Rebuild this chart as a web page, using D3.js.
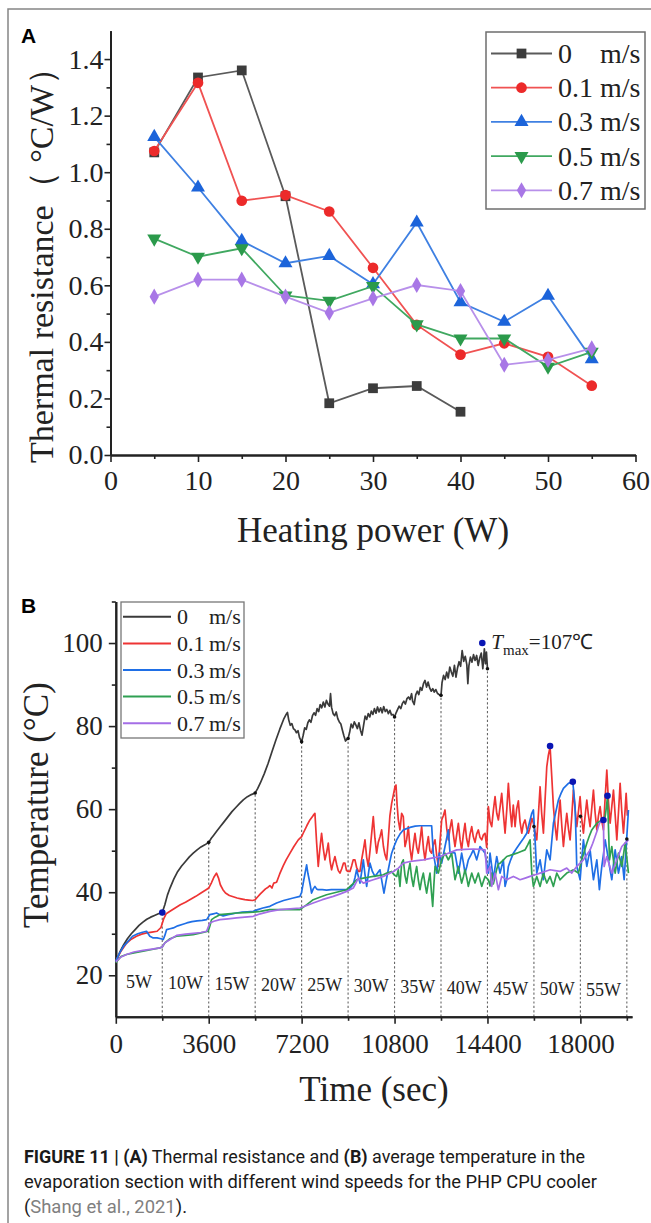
<!DOCTYPE html>
<html>
<head>
<meta charset="utf-8">
<title>Figure 11</title>
<style>
  html, body { margin: 0; padding: 0; background: #fff; }
  svg { display: block; }
</style>
</head>
<body>
<script src="https://cdn.jsdelivr.net/npm/d3@7"></script>
<script>

// ---------- (A) thermal resistance vs heating power ----------
var power = [5, 10, 15, 20, 25, 30, 35, 40, 45, 50, 55]
var speedNames = ['0', '0.1', '0.3', '0.5', '0.7']

var rth0  = [1.07, 1.335, 1.36, 0.915, 0.183, 0.236, 0.244, 0.153]
var rth01 = [1.075, 1.316, 0.899, 0.919, 0.861, 0.662, 0.46, 0.355, 0.395, 0.347, 0.245]
var rth03 = [1.125, 0.946, 0.757, 0.678, 0.704, 0.604, 0.822, 0.54, 0.471, 0.563, 0.339]
var rth05 = [0.765, 0.701, 0.731, 0.564, 0.545, 0.597, 0.462, 0.412, 0.412, 0.312, 0.365]
var rth07 = [0.56, 0.62, 0.62, 0.56, 0.503, 0.554, 0.601, 0.58, 0.319, 0.336, 0.377]

var xTicksA = [0, 10, 20, 30, 40, 50, 60]
var yTicksA = [0, 0.2, 0.4, 0.6, 0.8, 1.0, 1.2, 1.4]

// ---------- (B) evaporator temperature vs time ----------
var xTicksB = [0, 3600, 7200, 10800, 14400, 18000]
var yTicksB = [20, 40, 60, 80, 100]
var stageNames = ['5W', '10W', '15W', '20W', '25W', '30W', '35W', '40W', '45W', '50W', '55W']
var stageEnds = [1800, 3600, 5400, 7200, 9000, 10800, 12600, 14400, 16200, 18000, 19800]
var stageTops = [35.1, 52, 63.9, 76.2, 77, 82.2, 87.4, 93.8, 55.8, 58.3, 52.8]
var peakDots = [[1800, 35.1], [14200, 100], [16826, 75.2], [17706, 66.6], [19050, 63.2], [18893, 57.4]]

// [time s, temperature °C]
var temp0 = [[0,23],[150,25.5],[300,27.3],[450,28.8],[600,30],[750,31],[900,32],[1050,32.8],[1200,33.5],[1350,34],[1500,34.4],[1650,34.8],[1800,35.1],
  [1900,37],[2000,39.3],[2100,41],[2250,43.2],[2400,45],[2550,46.3],[2700,47.4],[2850,48.5],[3000,49.4],[3150,50.2],[3300,50.9],[3450,51.4],[3600,52],
  [3700,53],[3800,53.8],[3900,54.6],[4050,55.8],[4200,57],[4350,58.2],[4500,59.4],[4650,60.4],[4800,61.4],[4950,62.3],[5100,63],[5250,63.5],[5400,63.9],
  [5500,65],[5600,66.3],[5750,68.5],[5900,71],[6050,73.8],[6200,76.6],[6350,79.2],[6500,81.6],[6600,82.8],[6650,83.3],[6700,81.5],[6760,80.2],[6820,80.6],[6880,79.4],[6950,79],[7000,78.4],[7060,78.9],[7120,77.2],[7200,76.2],
  [7260,77.8],[7320,79.6],[7380,79.2],[7440,80.8],[7500,81.5],[7560,80.9],[7620,82.5],[7680,83.2],[7740,82.6],[7800,84.2],[7860,83.5],[7920,85.2],[7980,84.4],[8040,85.8],[8100,84.6],[8160,86.2],[8220,85.3],[8280,84.8],[8320,87.8],[8360,84.5],[8420,83],[8480,82.5],[8540,83.4],[8600,81.8],[8660,81],[8720,80.5],[8780,79],[8840,77.6],[8900,76.4],[8960,76.8],[9000,77],
  [9060,78.5],[9120,80.5],[9180,79.6],[9240,81],[9300,80.3],[9360,79.4],[9420,80.8],[9480,79],[9540,77.8],[9600,80.2],[9660,82.4],[9720,81.6],[9780,83],[9840,82.2],[9900,83.6],[9960,82.8],[10020,84.2],[10080,83.1],[10140,84.6],[10200,83.4],[10260,84.4],[10320,83.2],[10380,84.7],[10440,83.5],[10500,84],[10560,83],[10620,83.8],[10680,82.7],[10740,82.8],[10800,82.2],
  [10860,83.2],[10920,84],[10980,84.8],[11040,84.2],[11100,85.4],[11160,86],[11220,85.3],[11280,86.6],[11340,87],[11400,86.4],[11460,87.8],[11500,86],[11560,85.2],[11620,87.5],[11680,88.4],[11740,87.6],[11800,89.3],[11860,88.6],[11920,90.2],[11980,91],[12040,89.4],[12100,90.6],[12160,89.2],[12220,88.4],[12280,89],[12340,88.2],[12400,88.8],[12460,87.9],[12520,87.6],[12600,87.4],
  [12640,90.5],[12700,92.2],[12760,91.2],[12820,93],[12880,91.6],[12940,94.2],[13000,93],[13060,92],[13120,94.6],[13180,91.8],[13240,94],[13300,95.5],[13360,94.4],[13420,98.2],[13480,95.6],[13540,96.8],[13600,94.8],[13640,90.2],[13680,94.5],[13740,96.6],[13800,95.4],[13860,97.2],[13920,95.8],[13980,97],[14040,94.6],[14100,96.4],[14160,97.6],[14220,93.8],[14280,98.6],[14320,95],[14360,97.8],[14400,93.8]]

var temp01 = [[0,23.4],[200,25.8],[400,27.6],[600,28.7],[800,29.4],[1000,29.9],[1200,30.2],[1400,30.4],[1600,30.6],[1750,31.5],[1850,33.5],[1950,34.8],[2100,35.4],[2300,36.2],[2500,37],[2700,37.6],[2900,38.3],[3100,39],[3300,39.8],[3500,40.6],[3600,41],[3700,42.2],[3800,43.6],[3900,44.6],[3980,43.4],[4050,41.8],[4150,40.6],[4250,39.8],[4400,39.2],[4550,38.9],[4700,38.6],[4850,38.4],[5000,38.2],[5150,38.1],[5300,38],[5400,38.2],[5500,38.9],[5600,39.6],[5700,40.2],[5800,40.8],[5900,41.2],[5970,41.6],[6050,41],[6120,42.2],[6230,42.4],[6350,44.4],[6490,46.4],[6600,47.8],[6750,49.4],[6900,51],[7070,52.6],[7200,53.4],[7260,54.2],[7400,56],[7520,57.4],[7650,58.5],[7715,59],[7780,52],[7844,46.2],[7900,50],[7973,54.2],[8040,50.5],[8103,47.8],[8170,49.6],[8232,51.8],[8300,47.5],[8361,45.4],[8420,47],[8490,48.6],[8560,46.6],[8620,45.2],[8685,44.6],[8750,45.6],[8820,47],[8878,47],[8940,45.2],[9000,45],[9072,45],[9140,46.4],[9200,47.8],[9266,47.8],[9330,46],[9400,45],[9460,45],[9530,48],[9600,50.5],[9654,52.6],[9720,48.4],[9783,46.2],[9850,50],[9920,54.6],[9976,58.2],[10040,53],[10106,49.4],[10170,52],[10240,53.4],[10300,55],[10370,51],[10430,49],[10494,47.8],[10560,53],[10620,58.4],[10688,61.4],[10760,63.6],[10817,65.4],[10856,65.8],[10900,61],[10946,57.4],[11010,55],[11075,59],[11139,58.2],[11205,51],[11268,52.6],[11333,55.8],[11400,50.5],[11463,47.8],[11530,51.4],[11592,54.2],[11660,50.8],[11721,49.4],[11790,52.6],[11850,55.8],[11920,50.5],[11980,47.8],[12045,51],[12109,53.4],[12170,50],[12238,49.4],[12300,51.4],[12368,52.6],[12430,49],[12497,46.2],[12560,52],[12626,57.4],[12690,58.4],[12755,59.8],[12820,55.4],[12884,52.6],[12950,55.4],[13013,57.4],[13080,53.8],[13142,51],[13210,54],[13272,56.6],[13340,52.6],[13400,50.2],[13460,53.6],[13530,56.6],[13590,53],[13659,51],[13720,53.8],[13790,55.8],[13850,53.4],[13918,52],[13980,54],[14047,55],[14110,53.2],[14177,52.6],[14240,53.8],[14306,54.2],[14370,50.8],[14435,60.6],[14500,57],[14565,55.8],[14630,59.8],[14694,63],[14760,59],[14823,57.4],[14890,60.6],[14952,63.8],[15020,58.6],[15082,54.2],[15150,60],[15210,66.2],[15280,59.8],[15340,55.8],[15400,61],[15470,55.8],[15530,60],[15597,62],[15660,57],[15729,54.2],[15790,56.4],[15857,57.4],[15920,55.4],[15986,54.2],[16050,55.6],[16120,57.8],[16180,56.6],[16250,54.4],[16310,52.6],[16370,58.4],[16439,65.4],[16500,59],[16568,54.2],[16630,62],[16698,70.2],[16760,73],[16826,75],[16890,68],[16955,60.6],[17020,56],[17085,52.6],[17150,57.8],[17214,62.2],[17280,56],[17343,51],[17410,55.4],[17473,59],[17540,55.2],[17601,52.6],[17670,58.6],[17730,64.6],[17800,59.6],[17861,55.8],[17925,59.4],[17989,63],[18050,57.8],[18118,54.2],[18180,58.2],[18249,62.2],[18310,58.6],[18377,55.8],[18440,60.2],[18506,64.6],[18570,59.2],[18637,55],[18700,58.4],[18765,60.6],[18830,57.2],[18893,55],[18960,62.8],[19024,69.4],[19090,61.6],[19153,56.6],[19220,60.8],[19282,64.6],[19350,58.4],[19412,52.6],[19480,59.6],[19540,66.2],[19600,59.8],[19669,54.2],[19720,58.6],[19773,63.8],[19820,58.4]]

var temp03 = [[0,23.4],[150,25.4],[300,27],[450,28],[650,29.4],[850,30],[1000,30.3],[1190,30.6],[1320,29.4],[1450,29],[1600,29],[1750,28.8],[1840,28.6],[1900,29.6],[1970,31],[2100,31.2],[2230,31.4],[2400,31.9],[2600,32.3],[2750,32.6],[2950,32.9],[3150,33.1],[3350,33.2],[3520,33.4],[3644,34.6],[3780,34.8],[3904,35],[4030,34.6],[4160,34.3],[4350,34.6],[4500,34.8],[4680,35],[4900,35.2],[5100,35.3],[5323,35.4],[5500,35.8],[5700,36.2],[5970,36.6],[6230,37.4],[6500,38],[6874,38.6],[7134,39],[7200,40],[7262,42.2],[7330,44.5],[7394,46.6],[7444,44.5],[7494,43],[7540,41.5],[7586,39.8],[7650,40.8],[7715,41.4],[7780,40.8],[7844,40.6],[8000,40.6],[8168,40.5],[8350,40.6],[8556,40.6],[8750,40.6],[8944,40.6],[9080,41],[9201,41.9],[9270,43.6],[9330,45.4],[9400,43.8],[9460,42.2],[9530,45],[9590,47.8],[9650,44.5],[9720,41.4],[9790,44.6],[9848,47],[9940,45],[10040,43.8],[10140,44.6],[10235,45.4],[10310,42.6],[10390,39.8],[10470,42.6],[10557,45.4],[10623,47.5],[10688,49.4],[10780,51],[10882,52.6],[11010,54],[11139,55],[11270,55.3],[11398,55.6],[11600,55.9],[11786,56],[12000,56],[12238,56],[12270,52.6],[12302,49.4],[12370,47],[12433,44.6],[12480,47],[12531,49.4],[12580,48.2],[12626,47],[12690,49],[12755,51],[12820,53],[12884,55],[12920,52],[12949,49.4],[13050,49.6],[13142,49.4],[13210,47],[13272,44.6],[13340,47],[13400,49.4],[13470,47],[13530,44.6],[13600,46.2],[13659,47.8],[13760,49],[13853,50.2],[13920,49],[13983,47.8],[14050,49.4],[14112,51],[14210,50.2],[14306,49.4],[14370,47],[14435,44.6],[14470,47],[14500,49.4],[14565,46.2],[14629,43],[14690,45.8],[14759,48.6],[14820,46.6],[14888,44.6],[14950,46.2],[15016,47.8],[15082,41.4],[15147,43],[15210,46.2],[15300,47.8],[15404,49.4],[15530,50.6],[15663,51.8],[15800,53],[15923,54.2],[16020,56.6],[16117,59],[16180,59.8],[16245,52.6],[16310,44.6],[16375,46.2],[16439,47.8],[16500,45.4],[16568,43],[16630,46.6],[16698,50.2],[16760,49],[16826,47.8],[16890,52.2],[16955,56.6],[17050,59.4],[17149,62.2],[17250,63.8],[17343,65],[17440,65.6],[17536,66.2],[17620,66.4],[17706,66.6],[17750,63.6],[17795,60.6],[17830,53.4],[17860,46.2],[17925,44.6],[17990,43],[18050,47.8],[18118,52.6],[18180,49.4],[18249,46.2],[18310,48.2],[18377,50.2],[18440,46.6],[18506,43],[18570,45.4],[18637,47.8],[18690,44.2],[18737,40.6],[18780,43.4],[18830,46.2],[18900,49.4],[18960,52.6],[19025,50.2],[19087,47.8],[19150,45.4],[19218,43],[19280,46.6],[19347,50.2],[19410,47.4],[19476,44.6],[19540,46.6],[19605,48.6],[19650,45.8],[19695,43],[19780,51.4],[19862,59.8]]

var temp05 = [[0,23],[200,24.5],[414,25],[700,25.4],[1058,25.8],[1400,26.2],[1706,26.6],[1800,26.8],[1900,27.8],[2100,28.8],[2353,29.4],[2700,29.6],[2997,29.8],[3300,30.2],[3580,30.6],[3650,32],[3710,33.4],[3850,34],[4032,34.6],[4350,34.8],[4680,35],[5000,35.1],[5323,35.2],[5600,35.4],[5970,35.8],[6358,35.8],[6750,35.8],[7134,35.8],[7400,37],[7650,38.2],[7900,38.8],[8168,39.4],[8550,40],[8944,40.6],[9150,41.8],[9330,43],[9590,43.4],[9780,43.6],[9976,43.8],[10170,44],[10364,44.2],[10500,44.6],[10688,45],[10780,44.2],[10882,43.8],[10946,45.4],[11010,41.4],[11075,47],[11139,47.8],[11205,44],[11268,42.2],[11333,45],[11398,47],[11460,43.6],[11527,41.4],[11590,44],[11657,46.2],[11720,43],[11786,40.6],[11850,43],[11915,44.6],[11980,42],[12044,39.8],[12110,42.4],[12174,44.6],[12230,40],[12278,36.6],[12320,41.4],[12368,46.2],[12430,45.4],[12497,44.6],[12560,46.2],[12626,47.8],[12690,48.6],[12755,49.4],[12820,48.6],[12884,47.8],[12950,48.6],[13013,49.4],[13080,46],[13142,43],[13210,44.6],[13272,46.2],[13340,44],[13400,42.2],[13470,43.8],[13530,45.4],[13600,43.4],[13659,41.4],[13720,43],[13790,44.6],[13850,43.4],[13918,42.2],[13980,43.4],[14047,44.6],[14110,43],[14177,41.4],[14240,42.6],[14306,43.8],[14370,43.4],[14435,43],[14500,41.5],[14565,44.6],[14630,42],[14694,43.8],[14760,45.6],[14823,46.8],[14888,47],[15020,47.8],[15147,48.6],[15340,49],[15535,49.4],[15700,49.8],[15857,50.2],[15960,51.4],[16051,52.6],[16117,44.6],[16180,41.4],[16245,42.6],[16310,43.8],[16375,42.6],[16439,41.4],[16500,43],[16568,44.6],[16630,43.4],[16698,42.2],[16760,43],[16826,43.8],[16890,42.6],[16955,41.4],[17020,43],[17085,44.6],[17150,43.8],[17214,43],[17340,43.8],[17473,44.6],[17600,45],[17730,45.4],[17830,45],[17924,44.6],[18053,47.8],[18150,49.8],[18249,51.8],[18340,53.4],[18442,55],[18540,55.8],[18637,56.6],[18730,57],[18830,57.4],[18960,58.2],[19010,60.6],[19050,63],[19090,55.4],[19128,47.8],[19170,49.4],[19218,51],[19280,47.8],[19347,44.6],[19410,47],[19476,49.4],[19540,47.8],[19605,46.2],[19670,49],[19733,51.8],[19800,48.2],[19862,44.6]]

var temp07 = [[0,23.2],[200,24.4],[414,25],[700,25.6],[1058,26],[1400,26.3],[1706,26.6],[1800,26.8],[1900,27.8],[2100,28.6],[2353,29.6],[2700,29.9],[3000,30.1],[3300,30.3],[3517,30.6],[3644,32.6],[3800,33],[4032,33.4],[4350,33.6],[4680,33.8],[5000,34],[5323,34.2],[5600,34.8],[5970,35.4],[6358,35.8],[6750,36],[7134,36.2],[7400,36.8],[7650,37.4],[8000,38.2],[8425,39],[8700,39.6],[8944,40.2],[9201,41],[9300,42.2],[9394,43.4],[9490,42.8],[9590,42.2],[9780,42.6],[9976,43],[10170,43.4],[10364,43.8],[10560,44.4],[10752,45],[10950,45.8],[11139,47],[11398,47.4],[11657,47.6],[11915,47.8],[12240,48.2],[12562,48.6],[12880,49.4],[13209,50.2],[13530,50.3],[13853,50.4],[14100,50.3],[14306,50.2],[14340,47.4],[14370,44.6],[14435,45.4],[14500,46.2],[14530,43.8],[14565,41.4],[14630,43],[14694,44.6],[14760,42.6],[14823,40.6],[14888,42.2],[14952,43.8],[15050,43.4],[15147,43],[15275,43.4],[15404,43.8],[15530,43.4],[15663,43],[15860,43.4],[16051,43.8],[16250,44.2],[16439,44.6],[16630,45],[16826,45.4],[17020,45.2],[17214,45],[17340,45.4],[17473,45.8],[17570,45.2],[17666,44.6],[17760,45.4],[17860,46.2],[17990,47],[18118,47.8],[18250,49],[18377,50.2],[18480,51.8],[18571,53.4],[18660,55],[18737,56.6],[18800,57],[18893,57.2],[18920,46.2],[18970,47.4],[19024,48.6],[19120,46.6],[19218,44.6],[19315,46.2],[19412,47.8],[19510,49.4],[19605,51],[19730,51.8],[19862,52.6]]

// styles
var lineColA   = ['#5a5a5a', '#f05252', '#3f80e2', '#40a860', '#b890ea']
var markColA   = ['#3c3c3c', '#ec2a2a', '#1c64da', '#2b9a4b', '#a877e6']
var lineColB   = ['#3a3a3a', '#ee3434', '#1f6fe6', '#2fa052', '#a46ee6']
var serif = '"Liberation Serif", "Times New Roman", serif'

var svg = d3.select('body').append('svg')
  .attr('width', 651)
  .attr('height', 1223)

svg.append('rect').attr('width', 651).attr('height', 1223).attr('fill', '#fff')

// page frame
svg.append('path')
  .attr('d', 'M8,1223V9H651')
  .attr('fill', 'none')
  .attr('stroke', '#858585')
  .attr('stroke-width', 1.5)

function styleAxis(g, size) {
  g.attr('font-family', serif).attr('font-size', size)
  g.select('.domain').attr('stroke', '#222').attr('stroke-width', 2)
  g.selectAll('.tick line').attr('stroke', '#222').attr('stroke-width', 1.6)
  g.selectAll('.tick text').attr('fill', '#222')
}

// ================= PANEL A =================
var xA = d3.scaleLinear().domain([0, 60]).range([110.5, 635.5])
var yA = d3.scaleLinear().domain([0, 1.5]).range([455, 30.8])

svg.append('text')
  .attr('x', 21).attr('y', 43)
  .attr('font-family', 'Arial, "Liberation Sans", sans-serif')
  .attr('font-weight', 'bold').attr('font-size', 21)
  .text('A')

svg.append('g').attr('transform', 'translate(0,455)')
  .call(d3.axisBottom(xA).tickValues(d3.range(5, 60, 10)).tickSize(4).tickFormat('').tickSizeOuter(0))
  .call(styleAxis, 28)
svg.append('g').attr('transform', 'translate(110.5,0)')
  .call(d3.axisLeft(yA).tickValues(d3.range(0.1, 1.5, 0.2)).tickSize(4).tickFormat('').tickSizeOuter(0))
  .call(styleAxis, 28)

svg.append('g').attr('transform', 'translate(0,455)')
  .call(d3.axisBottom(xA).tickValues(xTicksA).tickSize(7).tickPadding(8).tickSizeOuter(0))
  .call(styleAxis, 28)
svg.append('g').attr('transform', 'translate(110.5,0)')
  .call(d3.axisLeft(yA).tickValues(yTicksA).tickFormat(d3.format('.1f')).tickSize(6).tickPadding(1).tickSizeOuter(0))
  .call(styleAxis, 28)

svg.append('text')
  .attr('x', 373).attr('y', 542)
  .attr('text-anchor', 'middle')
  .attr('font-family', serif).attr('font-size', 35).attr('fill', '#222')
  .text('Heating power (W)')

svg.append('text')
  .attr('transform', 'translate(53,257) rotate(-90)')
  .attr('text-anchor', 'middle')
  .attr('font-family', serif).attr('font-size', 34).attr('fill', '#222')
  .text('Thermal resistance\uFF08 \u00B0C/W\uFF09')

var symA = [
  d3.symbol().type(d3.symbolSquare).size(95),
  d3.symbol().type(d3.symbolCircle).size(90),
  d3.symbol().type(d3.symbolTriangle).size(85),
  d3.symbol().type(d3.symbolTriangle).size(85),
  d3.symbol().type(d3.symbolDiamond).size(75)
]
var symRot = [0, 0, 0, 180, 0]

var rthAll = [rth0, rth01, rth03, rth05, rth07]
var lineA = d3.line().x(function(d) { return xA(d[0]) }).y(function(d) { return yA(d[1]) })

rthAll.forEach(function(vals, i) {
  var pts = vals.map(function(v, j) { return [power[j], v] })
  var g = svg.append('g')
  g.append('path')
    .datum(pts)
    .attr('d', lineA)
    .attr('fill', 'none')
    .attr('stroke', lineColA[i])
    .attr('stroke-width', 1.8)
  g.selectAll('path.mk')
    .data(pts)
    .enter()
    .append('path')
    .attr('class', 'mk')
    .attr('d', symA[i])
    .attr('transform', function(d) { return 'translate(' + xA(d[0]) + ',' + yA(d[1]) + ') rotate(' + symRot[i] + ')' })
    .attr('fill', markColA[i])
})

// legend A
var legA = svg.append('g')
legA.append('rect')
  .attr('x', 486).attr('y', 32).attr('width', 159).attr('height', 177)
  .attr('fill', '#fff').attr('stroke', '#6e6e6e').attr('stroke-width', 1.5)

speedNames.forEach(function(name, i) {
  var cy = 53.5 + i * 34.2
  legA.append('line')
    .attr('x1', 491).attr('x2', 552).attr('y1', cy).attr('y2', cy)
    .attr('stroke', lineColA[i]).attr('stroke-width', 1.8)
  legA.append('path')
    .attr('d', symA[i])
    .attr('transform', 'translate(521.5,' + cy + ') rotate(' + symRot[i] + ')')
    .attr('fill', markColA[i])
  legA.append('text')
    .attr('x', 558).attr('y', cy + 9.5)
    .attr('font-family', serif).attr('font-size', 28).attr('fill', '#222')
    .text(name)
  legA.append('text')
    .attr('x', 600).attr('y', cy + 9.5)
    .attr('font-family', serif).attr('font-size', 28).attr('fill', '#222')
    .text('m/s')
})

// ================= PANEL B =================
var xB = d3.scaleLinear().domain([0, 20000]).range([115.8, 632])
var yB = d3.scaleLinear().domain([10, 110]).range([1016.8, 601.5])

svg.append('text')
  .attr('x', 21).attr('y', 613)
  .attr('font-family', 'Arial, "Liberation Sans", sans-serif')
  .attr('font-weight', 'bold').attr('font-size', 21)
  .text('B')

// stage boundaries (dotted)
svg.append('g')
  .selectAll('line')
  .data(stageEnds)
  .enter()
  .append('line')
  .attr('x1', function(d) { return xB(d) })
  .attr('x2', function(d) { return xB(d) })
  .attr('y1', yB(10))
  .attr('y2', function(d, i) { return yB(stageTops[i]) })
  .attr('stroke', '#666')
  .attr('stroke-width', 1.1)
  .attr('stroke-dasharray', '2.2,2.2')

svg.append('g').attr('transform', 'translate(0,' + yB(10) + ')')
  .call(d3.axisBottom(xB).tickValues(d3.range(1800, 20000, 3600)).tickSize(4).tickFormat('').tickSizeOuter(0))
  .call(styleAxis, 27)
svg.append('g').attr('transform', 'translate(115.8,0)')
  .call(d3.axisLeft(yB).tickValues(d3.range(30, 111, 20)).tickSize(4).tickFormat('').tickSizeOuter(0))
  .call(styleAxis, 27)

svg.append('g').attr('transform', 'translate(0,' + yB(10) + ')')
  .call(d3.axisBottom(xB).tickValues(xTicksB).tickFormat(d3.format('d')).tickSize(7).tickPadding(10).tickSizeOuter(0))
  .call(styleAxis, 27)
svg.append('g').attr('transform', 'translate(115.8,0)')
  .call(d3.axisLeft(yB).tickValues(yTicksB).tickSize(7).tickPadding(6).tickSizeOuter(0))
  .call(styleAxis, 27)

// power labels
svg.append('g')
  .selectAll('text')
  .data(stageNames)
  .enter()
  .append('text')
  .attr('x', function(d, i) { return xB(stageEnds[i] - 900) })
  .attr('y', function(d, i) { return yB(20) + 13 + i * 0.8 })
  .attr('text-anchor', 'middle')
  .attr('font-family', serif).attr('font-size', 18).attr('fill', '#222')
  .text(function(d) { return d })

var lineB = d3.line().x(function(d) { return xB(d[0]) }).y(function(d) { return yB(d[1]) })
var tempAll = [temp0, temp01, temp03, temp05, temp07]

tempAll.forEach(function(pts, i) {
  svg.append('path')
    .datum(pts)
    .attr('d', lineB)
    .attr('fill', 'none')
    .attr('stroke', lineColB[i])
    .attr('stroke-width', 1.7)
    .attr('stroke-linejoin', 'round')
})

// small black dots at the stage tops, blue dots at peaks
svg.append('g')
  .selectAll('circle')
  .data(stageEnds)
  .enter()
  .append('circle')
  .attr('cx', function(d) { return xB(d) })
  .attr('cy', function(d, i) { return yB(stageTops[i]) })
  .attr('r', 1.8)
  .attr('fill', '#111')

svg.append('g')
  .selectAll('circle')
  .data(peakDots)
  .enter()
  .append('circle')
  .attr('cx', function(d) { return xB(d[0]) })
  .attr('cy', function(d) { return yB(d[1]) })
  .attr('r', 3.3)
  .attr('fill', '#0a16b4')

var tmax = svg.append('text')
  .attr('x', xB(14200) + 9).attr('y', yB(100) + 6)
  .attr('font-family', serif).attr('font-size', 21).attr('fill', '#222')
tmax.append('tspan').attr('font-style', 'italic').text('T')
tmax.append('tspan').attr('font-size', 15).attr('dy', 6).text('max')
tmax.append('tspan').attr('dy', -6).text('=107\u2103')

// legend B
var legB = svg.append('g')
legB.append('rect')
  .attr('x', 121).attr('y', 602).attr('width', 123).attr('height', 136)
  .attr('fill', '#fff').attr('stroke', '#777').attr('stroke-width', 1.3)

speedNames.forEach(function(name, i) {
  var cy = 616.8 + i * 26.6
  legB.append('line')
    .attr('x1', 123).attr('x2', 171).attr('y1', cy).attr('y2', cy)
    .attr('stroke', lineColB[i]).attr('stroke-width', 2)
  legB.append('text')
    .attr('x', 177).attr('y', cy + 7.5)
    .attr('font-family', serif).attr('font-size', 22).attr('fill', '#222')
    .text(name)
  legB.append('text')
    .attr('x', 209).attr('y', cy + 7.5)
    .attr('font-family', serif).attr('font-size', 22).attr('fill', '#222')
    .text('m/s')
})

svg.append('text')
  .attr('x', 374).attr('y', 1101)
  .attr('text-anchor', 'middle')
  .attr('font-family', serif).attr('font-size', 35).attr('fill', '#222')
  .text('Time (sec)')

svg.append('text')
  .attr('transform', 'translate(48,805) rotate(-90)')
  .attr('text-anchor', 'middle')
  .attr('font-family', serif).attr('font-size', 35).attr('fill', '#222')
  .text('Temperature (\u00B0C)')

// ================= CAPTION =================
var capFont = 'Roboto, "Liberation Sans", sans-serif'

var c1 = svg.append('text')
  .attr('x', 24).attr('y', 1162.5)
  .attr('font-family', capFont).attr('font-size', 17.5).attr('fill', '#1a1a1a')
  .attr('textLength', 561).attr('lengthAdjust', 'spacingAndGlyphs')
c1.append('tspan').attr('font-weight', 'bold').text('FIGURE 11 | (A)')
c1.append('tspan').text(' Thermal resistance and ')
c1.append('tspan').attr('font-weight', 'bold').text('(B)')
c1.append('tspan').text(' average temperature in the')

svg.append('text')
  .attr('x', 24).attr('y', 1187.5)
  .attr('font-family', capFont).attr('font-size', 17.5).attr('fill', '#1a1a1a')
  .attr('textLength', 573).attr('lengthAdjust', 'spacingAndGlyphs')
  .text('evaporation section with different wind speeds for the PHP CPU cooler')

var c3 = svg.append('text')
  .attr('x', 24).attr('y', 1212.5)
  .attr('font-family', capFont).attr('font-size', 17.5).attr('fill', '#1a1a1a')
  .attr('textLength', 163).attr('lengthAdjust', 'spacingAndGlyphs')
c3.append('tspan').text('(')
c3.append('tspan').attr('fill', '#808080').text('Shang et al., 2021')
c3.append('tspan').text(').')

</script>
</body>
</html>
